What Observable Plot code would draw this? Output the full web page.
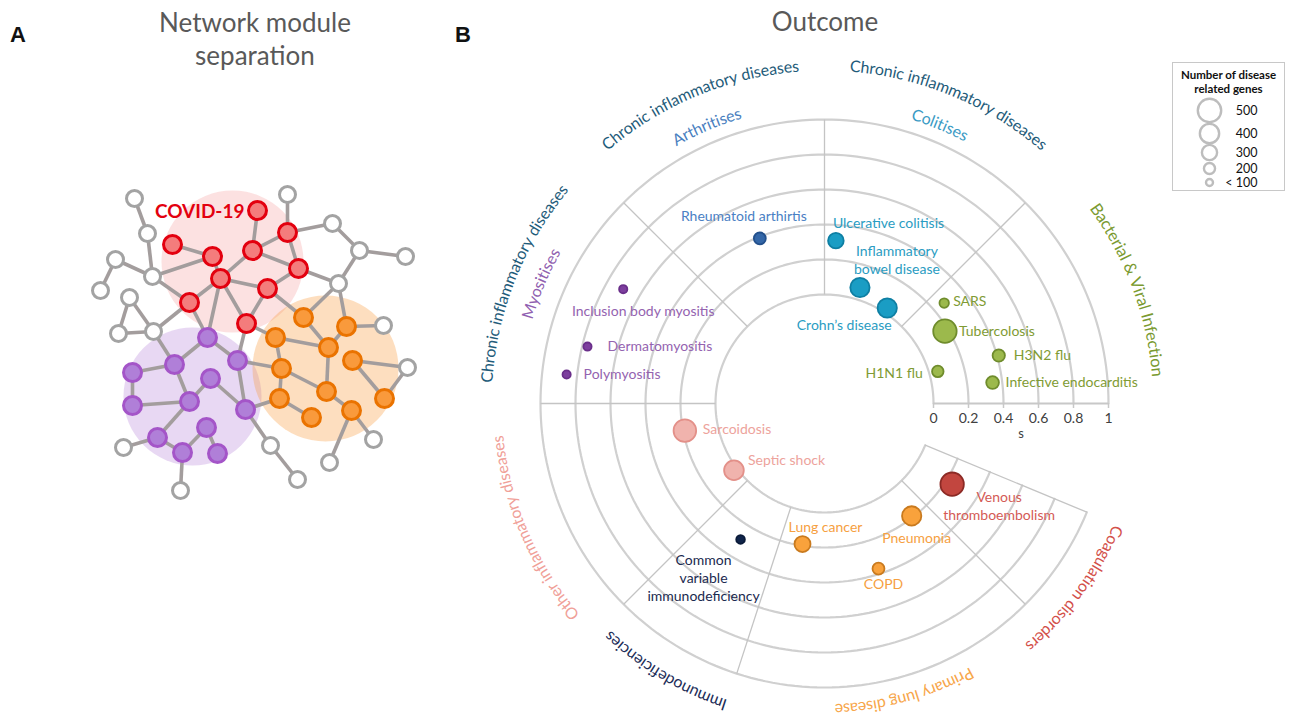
<!DOCTYPE html>
<html>
<head>
<meta charset="utf-8">
<script src="https://cdn.jsdelivr.net/npm/d3@7"></script>
<script src="https://cdn.jsdelivr.net/npm/@observablehq/plot@0.6"></script>
<style>
  body { margin: 0; background: #fff; }
  #wrap { position: relative; width: 1293px; height: 721px; overflow: hidden; background: #fff; font-family: Lato, sans-serif; }
  .abs { position: absolute; }
  .panel-letter { font-family: "Liberation Sans", Arial, sans-serif; font-weight: bold; font-size: 22px; color: #111; line-height: 22px; }
  .title { color: #595959; font-size: 26px; line-height: 33px; text-align: center; }
  #legendBox { border: 1px solid #c8c8c8; box-sizing: border-box; background: #fff; }
  #legendTitle { font-weight: bold; font-size: 11.5px; line-height: 14px; text-align: center; color: #111; margin-top: 5px; }
</style>
</head>
<body>
<div id="wrap">
  <div class="abs" id="panelA" style="left:0;top:0"></div>
  <div class="abs" id="panelB" style="left:440px;top:0"></div>
  <div class="abs panel-letter" style="left:10px;top:24px">A</div>
  <div class="abs panel-letter" style="left:455px;top:24px">B</div>
  <div class="abs title" style="left:105px;top:6px;width:300px">Network module<br>separation</div>
  <div class="abs title" style="left:675px;top:5px;width:300px">Outcome</div>
  <div class="abs" id="legendBox" style="left:1172px;top:62px;width:113px;height:129px">
    <div id="legendTitle">Number of disease<br>related genes</div>
  </div>
  <div class="abs" id="legendPlot" style="left:1173px;top:95px"></div>
</div>
<script>
// ---------------- Panel B data ----------------
const diseases = ["Rheumatoid arthirtis", "Ulcerative colitisis", "Inflammatory\nbowel disease", "Crohn’s disease",
  "SARS", "Tubercolosis", "H3N2 flu", "Infective endocarditis", "H1N1 flu",
  "Inclusion body myositis", "Dermatomyositis", "Polymyositis",
  "Sarcoidosis", "Septic shock", "Common\nvariable\nimmunodeficiency",
  "Lung cancer", "Pneumonia", "COPD", "Venous\nthromboembolism"];
const diseaseGroup = [0, 1, 1, 1, 2, 2, 2, 2, 2, 3, 3, 3, 4, 4, 5, 6, 6, 6, 7];
const angleDeg = [111.4, 86, 73, 56.7, 40, 31, 15.4, 7.1, 15.8, 150.4, 166.5, 173.6, 191, 216.4, 238.3, 261.1, 307.8, 288.1, 327.7];
const sValue = [0.39, 0.31, 0.07, 0.03, 0.27, 0.18, 0.41, 0.345, 0.05, 0.70, 0.77, 0.86, 0.19, 0.02, 0.29, 0.19, 0.19, 0.37, 0.24];
const genes = [220, 310, 400, 400, 160, 500, 230, 240, 210, 130, 130, 130, 480, 410, 140, 320, 400, 220, 500];

const groups = ["Arthritises", "Colitises", "Bacterial & Viral Infection", "Myositises", "Other inflammatory diseases", "Immunodeficiencies", "Primary lung disease", "Coagulation disorders"];
const groupFill = ["#3467a8", "#1a9dc4", "#9cb94c", "#7d3f9e", "#f0b3ad", "#10244a", "#f9a23c", "#c2463f"];
const groupStroke = ["#23508c", "#0e7fa3", "#6f8c2c", "#6a2f8a", "#e39089", "#0a1a38", "#c97a1e", "#8c2a25"];
const groupText = ["#4a80c4", "#2a9cc2", "#7f9b34", "#9463b0", "#eda39c", "#1b2a4f", "#f6a03f", "#d45a55"];

const sectorBounds = [0, 45, 90, 135, 180, 225, 252, 315, 337.5];
const sTicks = [0, 0.2, 0.4, 0.6, 0.8, 1];
const sTickLabels = ["0", "0.2", "0.4", "0.6", "0.8", "1"];

const sectorLabels = ["Chronic inflammatory diseases", "Arthritises", "Chronic inflammatory diseases", "Colitises",
  "Bacterial & Viral Infection", "Chronic inflammatory diseases", "Myositises", "Other inflammatory diseases",
  "Immunodeficiencies", "Primary lung disease", "Coagulation disorders"];
const sectorLabelAngle = [112.5, 113, 67.5, 67.5, 20.5, 158.3, 157.1, 203.2, 239.3, 285.4, 323.5];

const legendGenes = [500, 400, 300, 200, 100];
const legendText = ["500", "400", "300", "200", "< 100"];

// ---------------- Panel A data (network layout) ----------------
const nodeId = ["g1","g2","g3","g4","g5","g6","g7","g8","g9","g10","g11","g12","g13","g14","g15","g16","g17","g18","g19","g20","g21",
  "r1","r2","r3","r4","r5","r6","r7","r8","r9","r10",
  "p1","p2","p3","p4","p5","p6","p7","p8","p9","p10","p11","p12",
  "o1","o2","o3","o4","o5","o6","o7","o8","o9","o10","o11"];
const nodeX = [134,147,115,100,152,129,118,153,287,332,359,405,338,383,407,373,329,297,270,123,180,
  257,172,212,252,287,298,220,267,189,246,
  207,174,237,132,210,132,189,245,157,206,182,217,
  303,346,275,328,352,281,326,279,384,351,311];
const nodeY = [198,233,259,290,276,297,333,331,194,223,250,256,283,325,367,439,462,479,445,447,490,
  210,244,256,250,232,268,278,288,302,323,
  337,364,360,372,378,405,401,409,437,427,452,453,
  317,326,337,347,360,368,391,398,398,410,417];
const edgeFrom = ["g1","g2","g3","g3","g5","g5","r2","g6","g6","g7","g8","g8","r9","r7","r7","r7","r7","r7","r9","r1","g9","r5","r5","r5","g10","g11","g11","r6","r6","r8","r8","r4","g13","g13","o2","o1","o2","r10","o3",
  "p1","p1","r10","p2","p2","p4","p6","p5","p5","p3","p3","p7","p9","p9","p11","p10","p11","p8","g19","p8","o3","o6","o6","o4","o8","o7","o10","o10","o5","o5","o9"];
const edgeTo = ["g2","g5","g5","g4","r3","r9","r3","g7","g8","g8","r9","p2","r7","r3","r4","p1","r10","r8","p1","r4","r5","r4","r6","g10","g11","g12","g13","g13","r8","r10","o1","r6","o1","o2","g14","o4","o4","o3","o4",
  "p2","p3","p3","p4","p7","p6","p7","p7","p8","p8","o6","p9","g20","p11","p10","p12","g21","g19","g18","o8","o6","o8","o7","o7","o11","o10","g17","g16","o9","g15","g15"];
const moduleName = ["Myositis-like module", "COVID-19", "Lung module"];
const moduleCx = [192, 232, 325];
const moduleCy = [396, 261, 368];
const moduleR = [69, 71, 73];
const moduleColor = ["#b47fd8", "#f8b4b4", "#f99a3c"];
const moduleOpacity = [0.3, 0.4, 0.33];
const nodeStyle = {
  g: {fill: "#ffffff", stroke: "#a3a3a3", r: 8},
  r: {fill: "#f47c7c", stroke: "#e3000f", r: 9},
  p: {fill: "#b07fd8", stroke: "#a455c8", r: 9},
  o: {fill: "#f99a3c", stroke: "#ea7300", r: 9}
};

// ---------------- Panel A ----------------
const nodes = nodeId.map((id, i) => ({id, x: nodeX[i], y: nodeY[i], t: id[0]}));
const byId = new Map(nodes.map(n => [n.id, n]));
const edges = edgeFrom.map((f, i) => ({a: byId.get(f), b: byId.get(edgeTo[i])}));
const modules = moduleName.map((m, i) => ({m, x: moduleCx[i], y: moduleCy[i], r: moduleR[i], c: moduleColor[i], o: moduleOpacity[i]}));

const AW = 440, AH = 721;
const chartA = Plot.plot({
  width: AW, height: AH, margin: 0,
  x: {domain: [0, AW], range: [0, AW], axis: null},
  y: {domain: [0, AH], range: [0, AH], axis: null},
  r: {type: "identity"},
  color: {type: "identity"},
  style: {background: "transparent", overflow: "visible"},
  marks: [
    ...modules.map(m => Plot.dot([m], {x: "x", y: "y", r: "r", fill: "c", fillOpacity: m.o, stroke: null})),
    Plot.link(edges, {x1: d => d.a.x, y1: d => d.a.y, x2: d => d.b.x, y2: d => d.b.y, stroke: "#a39d9d", strokeWidth: 3.6}),
    ...["g", "r", "p", "o"].map(t => Plot.dot(nodes.filter(n => n.t === t), {x: "x", y: "y", r: nodeStyle[t].r, fill: nodeStyle[t].fill, stroke: nodeStyle[t].stroke, strokeWidth: 3})),
    Plot.text([byId.get("r1")], {x: "x", y: "y", text: () => "COVID-19", dx: -13, dy: 1, textAnchor: "end", fill: "#e3000f", fontWeight: "bold", fontSize: 19, fontFamily: "Lato, sans-serif"})
  ]
});
document.getElementById("panelA").appendChild(chartA);

// ---------------- Panel B ----------------
const K = 175;           // pixels per unit of s
const R0 = 109 / K;      // inner radius (s = 0)
const BW = 853, BH = 721, BCX = 384, BCY = 403;
const rad = a => a * Math.PI / 180;
const rScale = {type: "linear", domain: [100, 500], range: [3.5, 11.7], clamp: true};

const pts = diseases.map((name, i) => ({
  name, g: diseaseGroup[i], genes: genes[i],
  x: (R0 + sValue[i]) * Math.cos(rad(angleDeg[i])),
  y: (R0 + sValue[i]) * Math.sin(rad(angleDeg[i]))
}));

// label layout (offsets in px)
const labelDx = [-16, -3, 37, -43, 9, 14, 15, 13, -15, 20, 20, 17, 18, 14, -37, 23, 5, 5, 47];
const labelDy = [-23, -18, -28, 16, -3, -1, -1, -1, 1, 21, -1, -1, -2, -11, 38, -18, 21, 15, 21];
const labelAnchor = ["middle", "start", "middle", "middle", "start", "start", "start", "start", "end", "middle", "start", "start", "start", "start", "middle", "middle", "middle", "middle", "middle"];

// sector label style
const sectorLabelRadius = [338, 302, 338, 302, 334, 338, 309, 328, 317, 306, 318];
const sectorLabelSize = [16, 16, 16, 16, 16.5, 16, 16, 16, 16, 16, 16];
const sectorLabelColor = ["#1f5c7a", "#4a7fc0", "#1f5c7a", "#3a9ac4", "#7a9a30", "#1f5c7a", "#9060b0", "#f0a098", "#1c2d58", "#f7a64a", "#d3504a"];

const ctx = document.createElement("canvas").getContext("2d");
function arcChars(label, angle, radiusPx, size) {
  ctx.font = `${size}px Lato`;
  const chars = Array.from(label);
  const total = ctx.measureText(label).width;
  const start = rad(angle) + (total / 2) / radiusPx;
  return chars.map((c, i) => {
    const a0 = ctx.measureText(label.slice(0, i)).width;
    const a1 = ctx.measureText(label.slice(0, i + 1)).width;
    const th = start - ((a0 + a1) / 2) / radiusPx;
    return {c, x: radiusPx / K * Math.cos(th), y: radiusPx / K * Math.sin(th), rot: 90 - th * 180 / Math.PI};
  });
}

const arcPts = sTicks.flatMap(s => d3.range(0, 339, 1.5).map(a => ({s, x: (R0 + s) * Math.cos(rad(a)), y: (R0 + s) * Math.sin(rad(a))})));

const chartB = Plot.plot({
  width: BW, height: BH, margin: 0,
  x: {domain: [-BCX / K, (BW - BCX) / K], range: [0, BW], axis: null},
  y: {domain: [(BCY - BH) / K, BCY / K], range: [BH, 0], axis: null},
  r: rScale,
  color: {type: "identity"},
  style: {fontFamily: "Lato, sans-serif", background: "transparent", overflow: "visible"},
  marks: [
    Plot.line(arcPts, {x: "x", y: "y", z: "s", stroke: "#d0d0d0", strokeWidth: 2.2}),
    Plot.link(sectorBounds.slice(1), {x1: a => R0 * Math.cos(rad(a)), y1: a => R0 * Math.sin(rad(a)), x2: a => (R0 + 1) * Math.cos(rad(a)), y2: a => (R0 + 1) * Math.sin(rad(a)), stroke: "#c4c4c4", strokeWidth: 1.3}),
    Plot.ruleY([0], {x1: R0, x2: R0 + 1, stroke: "#c8c8c8", strokeWidth: 2}),
    Plot.ruleX(sTicks, {x: s => R0 + s, y1: 0, y2: -5 / K, stroke: "#c8c8c8", strokeWidth: 1.5}),
    Plot.text(sTicks, {x: s => R0 + s, y: 0, text: (s, i) => sTickLabels[i], dy: 15, fontSize: 14, fill: "#404040"}),
    Plot.text(["s"], {x: R0 + 0.5, y: 0, text: d => d, dy: 30, fontSize: 13, fill: "#404040"}),
    Plot.dot(pts, {x: "x", y: "y", r: "genes", fill: d => groupFill[d.g], stroke: d => groupStroke[d.g], strokeWidth: 1.8}),
    ...pts.map((p, i) => Plot.text([p], {x: "x", y: "y", text: "name", dx: labelDx[i], dy: labelDy[i], textAnchor: labelAnchor[i], fill: groupText[p.g], fontSize: 14, lineHeight: 1.3})),
    ...sectorLabels.map((lab, i) => Plot.text(arcChars(lab, sectorLabelAngle[i], sectorLabelRadius[i], sectorLabelSize[i]), {x: "x", y: "y", text: "c", rotate: "rot", fontSize: sectorLabelSize[i], fill: sectorLabelColor[i]}))
  ]
});
document.getElementById("panelB").appendChild(chartB);

// ---------------- Legend ----------------
const legendRowY = [15, 38, 57, 73, 87];
const LW = 110, LH = 95;
const legend = Plot.plot({
  width: LW, height: LH, margin: 0,
  x: {domain: [0, LW], range: [0, LW], axis: null},
  y: {domain: [0, LH], range: [0, LH], axis: null},
  r: rScale,
  style: {fontFamily: "Lato, sans-serif", background: "transparent", overflow: "visible"},
  marks: [
    Plot.dot(legendGenes, {x: 36, y: (d, i) => legendRowY[i], r: d => d, fill: "none", stroke: "#bdbdbd", strokeWidth: 2.4}),
    Plot.text(legendGenes, {x: 84, y: (d, i) => legendRowY[i], text: (d, i) => legendText[i], textAnchor: "end", fontSize: 12.5, fill: "#111"})
  ]
});
document.getElementById("legendPlot").appendChild(legend);
</script>
</body>
</html>
